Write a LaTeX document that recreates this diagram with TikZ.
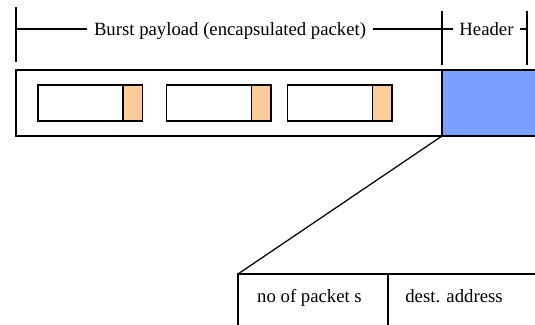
\documentclass[tikz,border=0pt]{standalone}
\usepackage{fontspec}
\setmainfont{Liberation Serif}
\usetikzlibrary{positioning}
\definecolor{hdrblue}{RGB}{121,160,255}
\definecolor{tailorange}{RGB}{255,204,153}

\begin{document}
\begin{tikzpicture}[x=1bp, y=-1bp, line width=1.25bp,
  box/.style={draw, rectangle, anchor=north west, inner sep=0pt, outer sep=0pt},
  body/.style={box, minimum width=85bp, minimum height=36bp},
  tail/.style={box, fill=tailorange, minimum width=19.5bp, minimum height=36bp},
  dimlbl/.style={inner sep=6bp, text height=15bp, text depth=2bp, font=\fontsize{18.8}{20}\selectfont},
  fieldlbl/.style={anchor=base, inner sep=0pt, font=\fontsize{18.8}{20}\selectfont}]
  \clip (0,0) rectangle (535,324);
  % burst: payload + header
  \node[box, minimum width=426bp, minimum height=66bp] (payload) at (16,70) {};
  \node[box, fill=hdrblue, minimum width=100bp, minimum height=66bp] (header) at (442,70) {};
  % encapsulated packets
  \node[body] (pkt1) at (38,85) {};
  \node[tail, right=0pt of pkt1] (tail1) {};
  \node[body] (pkt2) at (166.5,85) {};
  \node[tail, right=0pt of pkt2] (tail2) {};
  \node[body] (pkt3) at (287.5,85) {};
  \node[tail, right=0pt of pkt3] (tail3) {};
  % dimension line on top
  \draw (16,7) -- (16,62);
  \draw (442,11) -- (442,65);
  \draw (527,11) -- (527,65);
  \coordinate (dimL) at (16,29);
  \coordinate (dimM) at (442,29);
  \coordinate (dimR) at (527,29);
  \node[dimlbl] (plabel) at (230,29) {Burst payload (encapsulated packet)};
  \node[dimlbl] (hlabel) at (486.5,29) {Header};
  \draw (dimL) -- (plabel);
  \draw (plabel) -- (dimM);
  \draw (dimM) -- (hlabel);
  \draw (hlabel) -- (dimR);
  % header fields
  \node[box, minimum width=150bp, minimum height=60bp] (count) at (238,274) {};
  \node[box, minimum width=160bp, minimum height=60bp, right=0pt of count] (dest) {};
  \node[fieldlbl] (countlbl) at (309.5,302) {no of packet s};
  \node[fieldlbl] (destlbl) at (454,302) {dest. address};
  \draw (header.south west) -- (count.north west);
\end{tikzpicture}
\end{document}
